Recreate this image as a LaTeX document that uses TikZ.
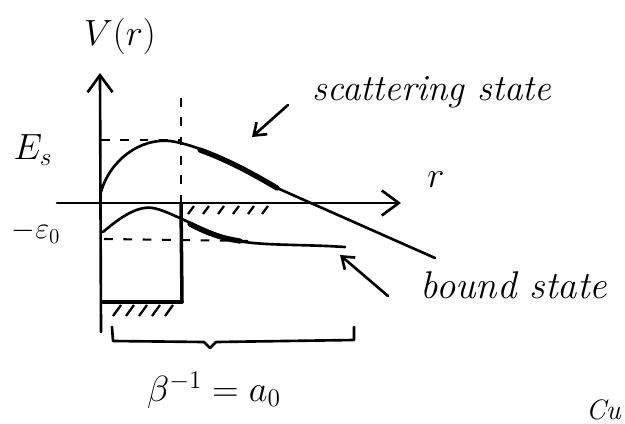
\documentclass[tikz,border=0pt]{standalone}
\usetikzlibrary{arrows.meta}
\begin{document}
\begin{tikzpicture}[x=0.02cm,y=-0.02cm,
  ink/.style={line width=1.5pt,line cap=round,line join=round},
  thickink/.style={line width=3pt,line cap=round},
  dashink/.style={line width=1.2pt,dash pattern=on 5pt off 6pt},
  axisarrow/.style={ink,-{Straight Barb[length=0.34cm,width=0.5cm,line width=1.5pt]}},
  ptrarrow/.style={ink,-{Straight Barb[length=0.22cm,width=0.32cm,line width=1.5pt]}},
  hatch/.style={line width=1.3pt},
  lbl/.style={font=\fontsize{20}{24}\selectfont,inner sep=0pt}]
\useasboundingbox (0,0) rectangle (625,423);
% axes
\coordinate (yb) at (101,332);
\coordinate (yt) at (100,73);
\coordinate (xl) at (57,203);
\coordinate (xr) at (401,203);
\draw[axisarrow] (yb) -- (yt);
\draw[axisarrow] (xl) -- (xr);
\node[lbl] (vr) at (120,36) {$V(r)$};
\node[lbl] (rlab) at (436,180) {$r$};
\node[lbl] (es) at (33,150) {$E_s$};
\node[lbl,font=\fontsize{17}{20}\selectfont] (eps) at (36,232) {$-\varepsilon_0$};
% dashed guides
\coordinate (esl) at (101,140);
\coordinate (esr) at (181,140);
\coordinate (vtop) at (181,98);
\coordinate (vax) at (181,203);
\draw[dashink] (esl) -- (esr);
\draw[ink] (101,140) -- (108,140);
\draw[dashink] (vtop) -- (vax);
\coordinate (bdl) at (104,239);
\coordinate (bdr) at (252,241);
\draw[dashink] (bdl) -- (bdr);
% well
\coordinate (wfl) at (103,302);
\coordinate (wfr) at (182,302);
\draw[ink,line width=2pt] (vax) -- (wfr);
\draw[ink,line width=2pt] (wfl) -- (wfr);
% hatching under floor
\foreach \x in {113,126,139,152,165}
  \draw[hatch] (\x,316) -- (\x+8,305);
% hatching below r axis
\foreach \x in {188,203,218,233,248,262}
  \draw[hatch] (\x,214) -- (\x+6,206);
% scattering state curve
\draw[ink] (101,192) .. controls (110,160) and (140,138) .. (170,141)
  .. controls (200,145) and (240,166) .. (277,188) -- (435,258);
\draw[thickink] (200,150) .. controls (230,161) and (255,175) .. (277,188);
% bound state curve
\draw[ink] (103,232) .. controls (115,222) and (135,205) .. (153,208)
  .. controls (170,211) and (200,230) .. (233,240)
  .. controls (260,246) and (300,244) .. (345,247);
\draw[thickink] (190,224) .. controls (205,232) and (220,238) .. (240,241);
% labels and pointers
\node[lbl,font=\fontsize{21}{24}\selectfont\itshape] (scat) at (432,92) {scattering state};
\node[lbl,font=\fontsize{22}{24}\selectfont\itshape] (bound) at (514,285) {bound state};
\coordinate (sa) at (288,105);
\coordinate (st) at (252,137);
\draw[ptrarrow] (sa) -- (st);
\coordinate (ba) at (388,296);
\coordinate (bt) at (340,255);
\draw[ptrarrow] (ba) -- (bt);
% brace
\draw[ink] (112,327) -- (113,341) -- (204,342) -- (210,348) -- (216,342) -- (354,340) -- (354,327);
\node[lbl,font=\fontsize{22}{26}\selectfont] (beta) at (214,390) {$\beta^{-1} = a_0$};
\node[lbl,font=\fontsize{16}{18}\selectfont\itshape,anchor=south east] (cu) at (621,420) {Cu};
\end{tikzpicture}
\end{document}
